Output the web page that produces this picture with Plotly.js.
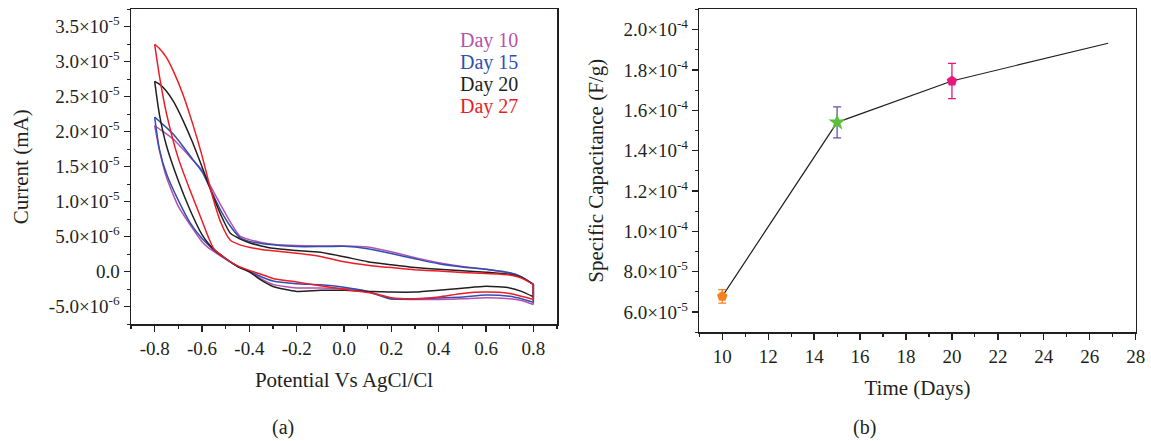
<!DOCTYPE html>
<html>
<head>
<meta charset="utf-8">
<script src="https://cdn.plot.ly/plotly-3.0.1.min.js"></script>
<style>html,body{margin:0;padding:0;background:#fff;}#chart{width:1151px;height:441px;}</style>
</head>
<body>
<div id="chart"></div>
<script>
// ---------- Panel (a): cyclic voltammetry ----------
const potentialForward = [-0.8, -0.78, -0.75, -0.72, -0.68, -0.64, -0.6, -0.56, -0.52, -0.48, -0.44, -0.4, -0.35, -0.3, -0.2, -0.1, 0.0, 0.1, 0.2, 0.3, 0.4, 0.5, 0.6, 0.7, 0.75, 0.8];
const day10Forward = [20.9e-6, 20.4e-6, 19.7e-6, 18.9e-6, 17.5e-6, 16.0e-6, 14.5e-6, 12.0e-6, 9.5e-6, 7.1e-6, 5.1e-6, 4.6e-6, 4.2e-6, 3.95e-6, 3.75e-6, 3.7e-6, 3.7e-6, 3.55e-6, 2.85e-6, 2.0e-6, 1.3e-6, 0.75e-6, 0.35e-6, -0.15e-6, -0.75e-6, -1.8e-6];
const day15Forward = [22.1e-6, 21.5e-6, 20.6e-6, 19.6e-6, 17.9e-6, 16.1e-6, 14.3e-6, 11.5e-6, 8.7e-6, 6.5e-6, 4.9e-6, 4.35e-6, 4.05e-6, 3.85e-6, 3.6e-6, 3.6e-6, 3.65e-6, 3.3e-6, 2.6e-6, 1.85e-6, 1.15e-6, 0.7e-6, 0.35e-6, -0.15e-6, -0.75e-6, -1.8e-6];
const day20Forward = [27.2e-6, 26.8e-6, 25.8e-6, 24.3e-6, 21.6e-6, 18.5e-6, 15.0e-6, 11.4e-6, 8.1e-6, 5.5e-6, 4.7e-6, 4.15e-6, 3.7e-6, 3.35e-6, 3.05e-6, 2.8e-6, 2.15e-6, 1.45e-6, 1.0e-6, 0.6e-6, 0.35e-6, 0.15e-6, -0.05e-6, -0.35e-6, -0.8e-6, -1.8e-6];
const day27Forward = [32.5e-6, 31.9e-6, 30.6e-6, 28.6e-6, 25.3e-6, 21.2e-6, 16.6e-6, 11.3e-6, 7.0e-6, 4.5e-6, 3.85e-6, 3.5e-6, 3.2e-6, 3.0e-6, 2.65e-6, 2.2e-6, 1.45e-6, 0.95e-6, 0.6e-6, 0.3e-6, 0.1e-6, -0.1e-6, -0.25e-6, -0.45e-6, -0.9e-6, -1.8e-6];

const potentialReverse = [0.8, 0.75, 0.7, 0.6, 0.5, 0.4, 0.3, 0.2, 0.15, 0.1, 0.0, -0.1, -0.2, -0.3, -0.35, -0.4, -0.45, -0.5, -0.55, -0.575, -0.6, -0.65, -0.7, -0.75, -0.78, -0.8];
const day10Reverse = [-4.67e-6, -4.1e-6, -3.85e-6, -3.7e-6, -3.85e-6, -3.95e-6, -3.95e-6, -3.85e-6, -3.3e-6, -2.8e-6, -2.4e-6, -2.3e-6, -2.3e-6, -1.8e-6, -1.0e-6, 0.0e-6, 0.8e-6, 1.8e-6, 2.9e-6, 3.5e-6, 4.3e-6, 6.7e-6, 9.35e-6, 13.5e-6, 17.4e-6, 20.9e-6];
const day15Reverse = [-4.34e-6, -3.85e-6, -3.5e-6, -3.3e-6, -3.6e-6, -3.75e-6, -3.9e-6, -3.9e-6, -3.4e-6, -2.8e-6, -2.2e-6, -1.85e-6, -1.7e-6, -1.3e-6, -0.7e-6, 0.1e-6, 0.8e-6, 1.85e-6, 3.1e-6, 3.9e-6, 4.75e-6, 7.0e-6, 10.2e-6, 14.0e-6, 17.5e-6, 22.1e-6];
const day20Reverse = [-3.57e-6, -2.8e-6, -2.3e-6, -2.06e-6, -2.35e-6, -2.65e-6, -2.9e-6, -2.9e-6, -2.85e-6, -2.8e-6, -2.65e-6, -2.65e-6, -2.8e-6, -2.1e-6, -1.2e-6, 0.0e-6, 0.75e-6, 1.9e-6, 3.2e-6, 4.1e-6, 5.3e-6, 8.8e-6, 13.0e-6, 18.0e-6, 22.5e-6, 27.2e-6];
const day27Reverse = [-3.96e-6, -3.5e-6, -3.1e-6, -2.9e-6, -3.1e-6, -3.6e-6, -3.85e-6, -3.7e-6, -3.3e-6, -2.95e-6, -2.5e-6, -2.0e-6, -1.45e-6, -0.95e-6, -0.35e-6, 0.2e-6, 0.85e-6, 1.9e-6, 3.3e-6, 5.1e-6, 7.3e-6, 11.6e-6, 16.2e-6, 22.6e-6, 28.0e-6, 32.5e-6];

const dayNames = ['Day 10', 'Day 15', 'Day 20', 'Day 27'];
const dayColors = ['#b552ad', '#2f50b0', '#231f20', '#ee1c25'];

const potTickVals = [-0.8, -0.6, -0.4, -0.2, 0.0, 0.2, 0.4, 0.6, 0.8];
const potTickText = ['-0.8', '-0.6', '-0.4', '-0.2', '0.0', '0.2', '0.4', '0.6', '0.8'];
const curTickVals = [-5e-6, 0, 5e-6, 1e-5, 1.5e-5, 2e-5, 2.5e-5, 3e-5, 3.5e-5];
const curTickText = ['-5.0×10<sup>-6</sup>', '0.0', '5.0×10<sup>-6</sup>', '1.0×10<sup>-5</sup>', '1.5×10<sup>-5</sup>', '2.0×10<sup>-5</sup>', '2.5×10<sup>-5</sup>', '3.0×10<sup>-5</sup>', '3.5×10<sup>-5</sup>'];

// ---------- Panel (b): specific capacitance ----------
const timeDays = [10, 15, 20];
const capacitance = [6.78e-5, 1.54e-4, 1.745e-4];
const capacitanceErr = [3.3e-6, 7.7e-6, 8.7e-6];
const markerSymbols = ['pentagon', 'star', 'pentagon'];
const markerColors = ['#f58220', '#5cbf3c', '#e8177d'];
const errorColors = ['#f58220', '#6a52a3', '#e8177d'];
const trendDays = [10, 15, 20, 26.8];
const trendCap = [6.78e-5, 1.54e-4, 1.745e-4, 1.932e-4];

const capTickVals = [6e-5, 8e-5, 1e-4, 1.2e-4, 1.4e-4, 1.6e-4, 1.8e-4, 2e-4];
const capTickText = ['6.0×10<sup>-5</sup>', '8.0×10<sup>-5</sup>', '1.0×10<sup>-4</sup>', '1.2×10<sup>-4</sup>', '1.4×10<sup>-4</sup>', '1.6×10<sup>-4</sup>', '1.8×10<sup>-4</sup>', '2.0×10<sup>-4</sup>'];

const forwardSets = [day10Forward, day15Forward, day20Forward, day27Forward];
const reverseSets = [day10Reverse, day15Reverse, day20Reverse, day27Reverse];

const traces = [];
for (let i = 0; i < dayNames.length; i++) {
  const ln = {color: dayColors[i], width: 1.5, shape: 'spline', smoothing: 0.6};
  traces.push({x: potentialForward, y: forwardSets[i], type: 'scatter', mode: 'lines', name: dayNames[i], line: ln, xaxis: 'x', yaxis: 'y', showlegend: false, hoverinfo: 'skip'});
  traces.push({x: [potentialForward[potentialForward.length - 1], potentialReverse[0]], y: [forwardSets[i][forwardSets[i].length - 1], reverseSets[i][0]], type: 'scatter', mode: 'lines', line: {color: dayColors[i], width: 1.5}, xaxis: 'x', yaxis: 'y', showlegend: false, hoverinfo: 'skip'});
  traces.push({x: potentialReverse, y: reverseSets[i], type: 'scatter', mode: 'lines', name: dayNames[i], line: ln, xaxis: 'x', yaxis: 'y', showlegend: false, hoverinfo: 'skip'});
}
traces.push({x: trendDays, y: trendCap, type: 'scatter', mode: 'lines', line: {color: '#231f20', width: 1.2}, xaxis: 'x2', yaxis: 'y2', showlegend: false});
for (let i = 0; i < timeDays.length; i++) {
  traces.push({
    x: [timeDays[i]], y: [capacitance[i]], type: 'scatter', mode: 'markers',
    marker: {symbol: markerSymbols[i], size: markerSymbols[i] === 'star' ? 13 : 11, color: markerColors[i], line: {width: 0}},
    error_y: {type: 'data', array: [capacitanceErr[i]], visible: true, color: errorColors[i], thickness: 1.3, width: 4},
    xaxis: 'x2', yaxis: 'y2', showlegend: false
  });
}

const W = 1151, H = 441;
const axisColor = '#231f20';
const tickFont = {family: 'Liberation Serif', size: 19, color: axisColor};
const titleFont = {family: 'Liberation Serif', size: 21, color: axisColor};
const baseAxis = {
  showline: true, mirror: true, linecolor: axisColor, linewidth: 1.5,
  ticks: 'outside', ticklen: 6, tickwidth: 1.3, tickcolor: axisColor,
  showgrid: false, zeroline: false, tickfont: tickFont, automargin: false
};
const mirrorAxis = {
  range: [0, 10], tickmode: 'linear', tick0: 0, dtick: 2, ticks: 'inside', ticklen: 5, tickwidth: 1.3, tickcolor: axisColor,
  minor: {tickmode: 'linear', tick0: 0, dtick: 1, ticks: 'inside', ticklen: 3, tickwidth: 1.1, tickcolor: axisColor},
  showticklabels: false, showgrid: false, zeroline: false, showline: false, automargin: false
};

const xa1 = [131 / W, 557 / W];
const ya1 = [(H - 324.3) / H, (H - 9.3) / H];
const xa2 = [699.3 / W, 1135.7 / W];
const ya2 = [(H - 332.3) / H, (H - 9.3) / H];

const legendTop = [40.7, 62.3, 84, 106.7];
const annotations = dayNames.map((n, i) => ({
  text: n, xref: 'paper', yref: 'paper', x: 458 / W, y: 1 - legendTop[i] / H,
  xanchor: 'left', yanchor: 'middle', showarrow: false,
  font: {family: 'Liberation Serif', size: 20, color: dayColors[i]}
}));
annotations.push({text: '(a)', xref: 'paper', yref: 'paper', x: 283 / W, y: 1 - 427 / H, xanchor: 'center', yanchor: 'middle', showarrow: false, font: {family: 'Liberation Serif', size: 20, color: axisColor}});
annotations.push({text: '(b)', xref: 'paper', yref: 'paper', x: 864 / W, y: 1 - 427 / H, xanchor: 'center', yanchor: 'middle', showarrow: false, font: {family: 'Liberation Serif', size: 20, color: axisColor}});

const layout = {
  width: W, height: H,
  margin: {l: 0, r: 0, t: 0, b: 0},
  paper_bgcolor: '#ffffff', plot_bgcolor: '#ffffff',
  showlegend: false,
  font: {family: 'Liberation Serif', color: axisColor},
  xaxis: Object.assign({}, baseAxis, {
    domain: xa1, anchor: 'y', range: [-0.9, 0.9],
    tickmode: 'array', tickvals: potTickVals, ticktext: potTickText,
    minor: {tickmode: 'linear', tick0: 0, dtick: 0.1, ticks: 'outside', ticklen: 3, tickwidth: 1.1, tickcolor: axisColor},
    title: {text: 'Potential Vs AgCl/Cl', font: titleFont, standoff: 14}
  }),
  yaxis: Object.assign({}, baseAxis, {
    domain: ya1, anchor: 'x', range: [-7.5e-6, 3.75e-5],
    tickmode: 'array', tickvals: curTickVals, ticktext: curTickText,
    minor: {tickmode: 'linear', tick0: 0, dtick: 2.5e-6, ticks: 'outside', ticklen: 3, tickwidth: 1.1, tickcolor: axisColor},
    title: {text: 'Current (mA)', font: titleFont, standoff: 14}
  }),
  xaxis3: Object.assign({}, mirrorAxis, {overlaying: 'x', anchor: 'y', side: 'top'}),
  yaxis3: Object.assign({}, mirrorAxis, {overlaying: 'y', anchor: 'x', side: 'right'}),
  xaxis2: Object.assign({}, baseAxis, {
    domain: xa2, anchor: 'y2', range: [9, 28],
    tickmode: 'linear', tick0: 0, dtick: 2,
    minor: {tickmode: 'linear', tick0: 0, dtick: 1, ticks: 'outside', ticklen: 3, tickwidth: 1.1, tickcolor: axisColor},
    title: {text: 'Time (Days)', font: titleFont, standoff: 14}
  }),
  yaxis2: Object.assign({}, baseAxis, {
    domain: ya2, anchor: 'x2', range: [5e-5, 2.1e-4],
    tickmode: 'array', tickvals: capTickVals, ticktext: capTickText,
    minor: {tickmode: 'linear', tick0: 0, dtick: 1e-5, ticks: 'outside', ticklen: 3, tickwidth: 1.1, tickcolor: axisColor},
    title: {text: 'Specific Capacitance (F/g)', font: titleFont, standoff: 14}
  }),
  xaxis4: Object.assign({}, mirrorAxis, {overlaying: 'x2', anchor: 'y2', side: 'top'}),
  yaxis4: Object.assign({}, mirrorAxis, {overlaying: 'y2', anchor: 'x2', side: 'right'}),
  annotations: annotations
};

Plotly.newPlot('chart', traces, layout, {staticPlot: true, displayModeBar: false});
</script>
</body>
</html>
